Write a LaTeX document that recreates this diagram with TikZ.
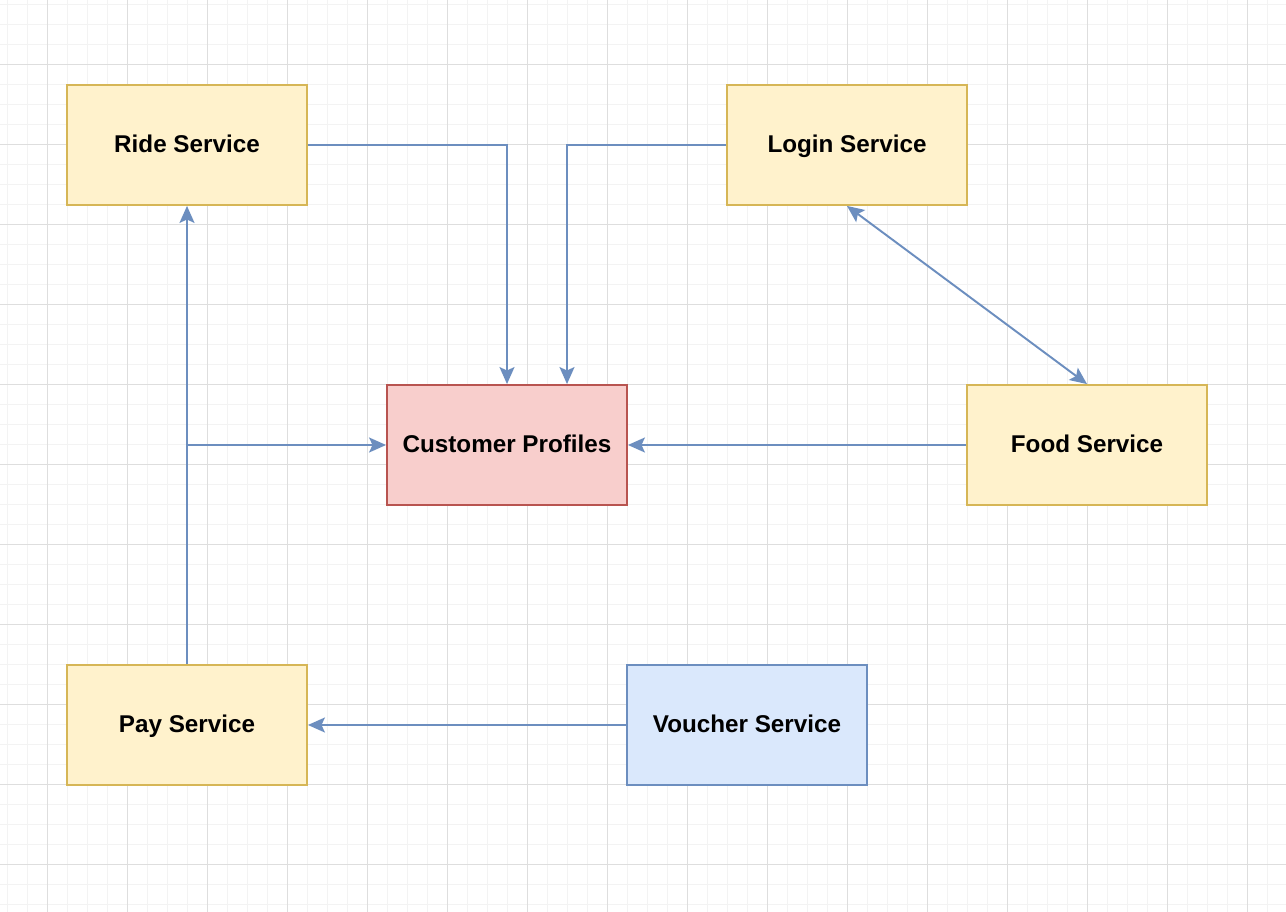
\documentclass[tikz,border=0pt]{standalone}
\usepackage{fontspec}
\setmainfont{Liberation Sans}
\usepackage{xcolor}
\definecolor{gridminor}{HTML}{F3F3F3}
\definecolor{gridmajor}{HTML}{DEDEDE}
\definecolor{yellowfill}{HTML}{FFF2CC}
\definecolor{yellowline}{HTML}{D6B656}
\definecolor{redfill}{HTML}{F8CECC}
\definecolor{redline}{HTML}{B85450}
\definecolor{bluefill}{HTML}{DAE8FC}
\definecolor{blueline}{HTML}{6C8EBF}
\usepackage{tikz}
\usetikzlibrary{arrows.meta,positioning}

\begin{document}
\begin{tikzpicture}[
        x=0.02cm, y=-0.02cm,
        svcbox/.style={rectangle, draw=yellowline, fill=yellowfill, line width=1.1pt, minimum width=4.8cm, minimum height=2.4cm, align=center, text height=0.88em, text depth=0pt, font=\fontsize{13.8}{16}\selectfont\bfseries},
        corebox/.style={svcbox, draw=redline, fill=redfill},
        vouchbox/.style={svcbox, draw=blueline, fill=bluefill},
        flow/.style={-{Stealth[length=0.34cm, width=0.3cm, inset=0.07cm]}, draw=blueline, line width=1.1pt},
        twoway/.style={flow, {Stealth[length=0.34cm, width=0.3cm, inset=0.07cm]}-{Stealth[length=0.34cm, width=0.3cm, inset=0.07cm]}}
    ]

        % Background grid
        \useasboundingbox[fill=white] (0,0) rectangle (1286,912);
        \foreach \gx in {7,27,...,1287} \draw[gridminor, line width=0.5pt] (\gx,0) -- (\gx,912);
        \foreach \gy in {4,24,...,904} \draw[gridminor, line width=0.5pt] (0,\gy) -- (1286,\gy);
        \foreach \gx in {47,127,...,1247} \draw[gridmajor, line width=0.5pt] (\gx,0) -- (\gx,912);
        \foreach \gy in {64,144,...,864} \draw[gridmajor, line width=0.5pt] (0,\gy) -- (1286,\gy);

        % Services
        \node[svcbox] (ride) at (187,145) {Ride Service};
        \node[svcbox] (login) at (847,145) {Login Service};
        \node[corebox] (profiles) at (507,445) {Customer Profiles};
        \node[svcbox] (food) at (1087,445) {Food Service};
        \node[svcbox] (pay) at (187,725) {Pay Service};
        \node[vouchbox] (voucher) at (747,725) {Voucher Service};

        % Bends
        \coordinate (rideturn) at (507,145);
        \coordinate (loginturn) at (567,145);
        \coordinate (payturn) at (187,445);

        % Arrows
        \draw[flow] (ride.east) -- (rideturn) -- (rideturn |- profiles.north);
        \draw[flow] (login.west) -- (loginturn) -- (loginturn |- profiles.north);
        \draw[twoway] (login.south) -- (food.north);
        \draw[flow] (food.west) -- (profiles.east);
        \draw[flow] (pay.north) -- (ride.south);
        \draw[flow] (payturn) -- (profiles.west);
        \draw[flow] (voucher.west) -- (pay.east);

    \end{tikzpicture}
\end{document}
